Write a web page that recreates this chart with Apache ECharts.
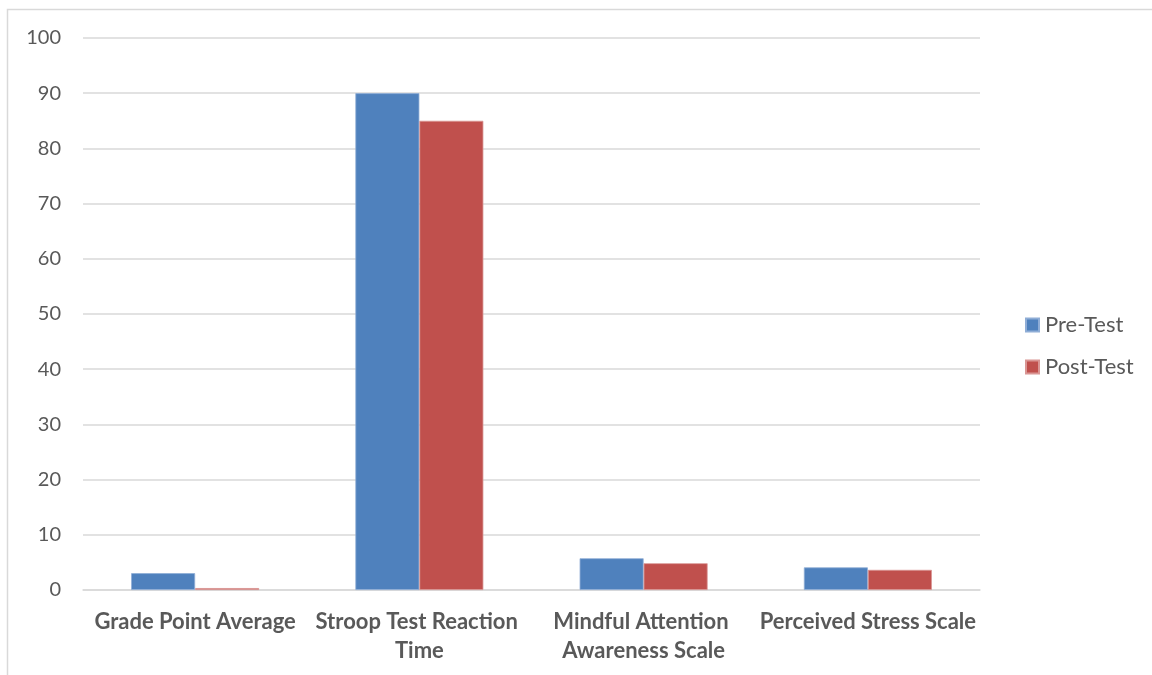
<!DOCTYPE html>
<html>
<head>
<meta charset="utf-8">
<script src="https://cdn.jsdelivr.net/npm/echarts@6/dist/echarts.min.js"></script>
<style>
  html, body { margin: 0; padding: 0; background: #fff; }
  #chart { width: 1152px; height: 675px; }
</style>
</head>
<body>
<div id="chart"></div>
<script>
// Measures compared before and after the programme
const categories = [
  'Grade Point Average',
  'Stroop Test Reaction Time',
  'Mindful Attention Awareness Scale',
  'Perceived Stress Scale'
];
const preTest = [3.05, 90, 5.75, 4.1];
const postTest = [0.35, 85, 4.85, 3.65];
const seriesNames = ['Pre-Test', 'Post-Test'];
const seriesColors = ['#4F81BD', '#C0504D'];

const FONT = 'Lato, "Open Sans", sans-serif';

const chart = echarts.init(document.getElementById('chart'), null, { renderer: 'canvas' });

chart.setOption({
  backgroundColor: '#ffffff',
  animation: false,
  graphic: [{
    type: 'rect',
    shape: { x: 7.5, y: 9.5, width: 1160, height: 680 },
    style: { fill: 'none', stroke: '#D9D9D9', lineWidth: 1.5 },
    silent: true
  }],
  grid: { left: 83, right: 172, top: 38, bottom: 85, containLabel: false },
  legend: {
    orient: 'vertical',
    left: 1020,
    top: 309,
    itemWidth: 13,
    itemHeight: 13,
    itemGap: 20,
    icon: 'rect',
    textStyle: { fontFamily: FONT, fontSize: 22, color: '#595959', padding: [0, 0, 0, 1] },
    data: seriesNames
  },
  xAxis: {
    type: 'category',
    data: categories,
    axisLine: { show: true, lineStyle: { color: '#D9D9D9', width: 1.5 } },
    axisTick: { show: false },
    axisLabel: {
      interval: 0,
      margin: 17,
      width: 228,
      overflow: 'break',
      lineHeight: 29,
      fontFamily: FONT,
      fontSize: 22,
      fontWeight: 'bold',
      color: '#595959'
    }
  },
  yAxis: {
    type: 'value',
    min: 0,
    max: 100,
    interval: 10,
    axisLine: { show: false },
    axisTick: { show: false },
    splitLine: { lineStyle: { color: '#D9D9D9', width: 1.5 } },
    axisLabel: {
      margin: 22,
      fontFamily: FONT,
      fontSize: 20,
      color: '#595959'
    }
  },
  series: [
    {
      name: seriesNames[0],
      type: 'bar',
      data: preTest,
      barWidth: 64,
      barGap: '0%',
      itemStyle: { color: seriesColors[0], borderColor: '#8FADD6', borderWidth: 0.8 }
    },
    {
      name: seriesNames[1],
      type: 'bar',
      data: postTest,
      barWidth: 64,
      barGap: '0%',
      itemStyle: { color: seriesColors[1], borderColor: '#D99694', borderWidth: 0.8 }
    }
  ]
});
</script>
</body>
</html>
